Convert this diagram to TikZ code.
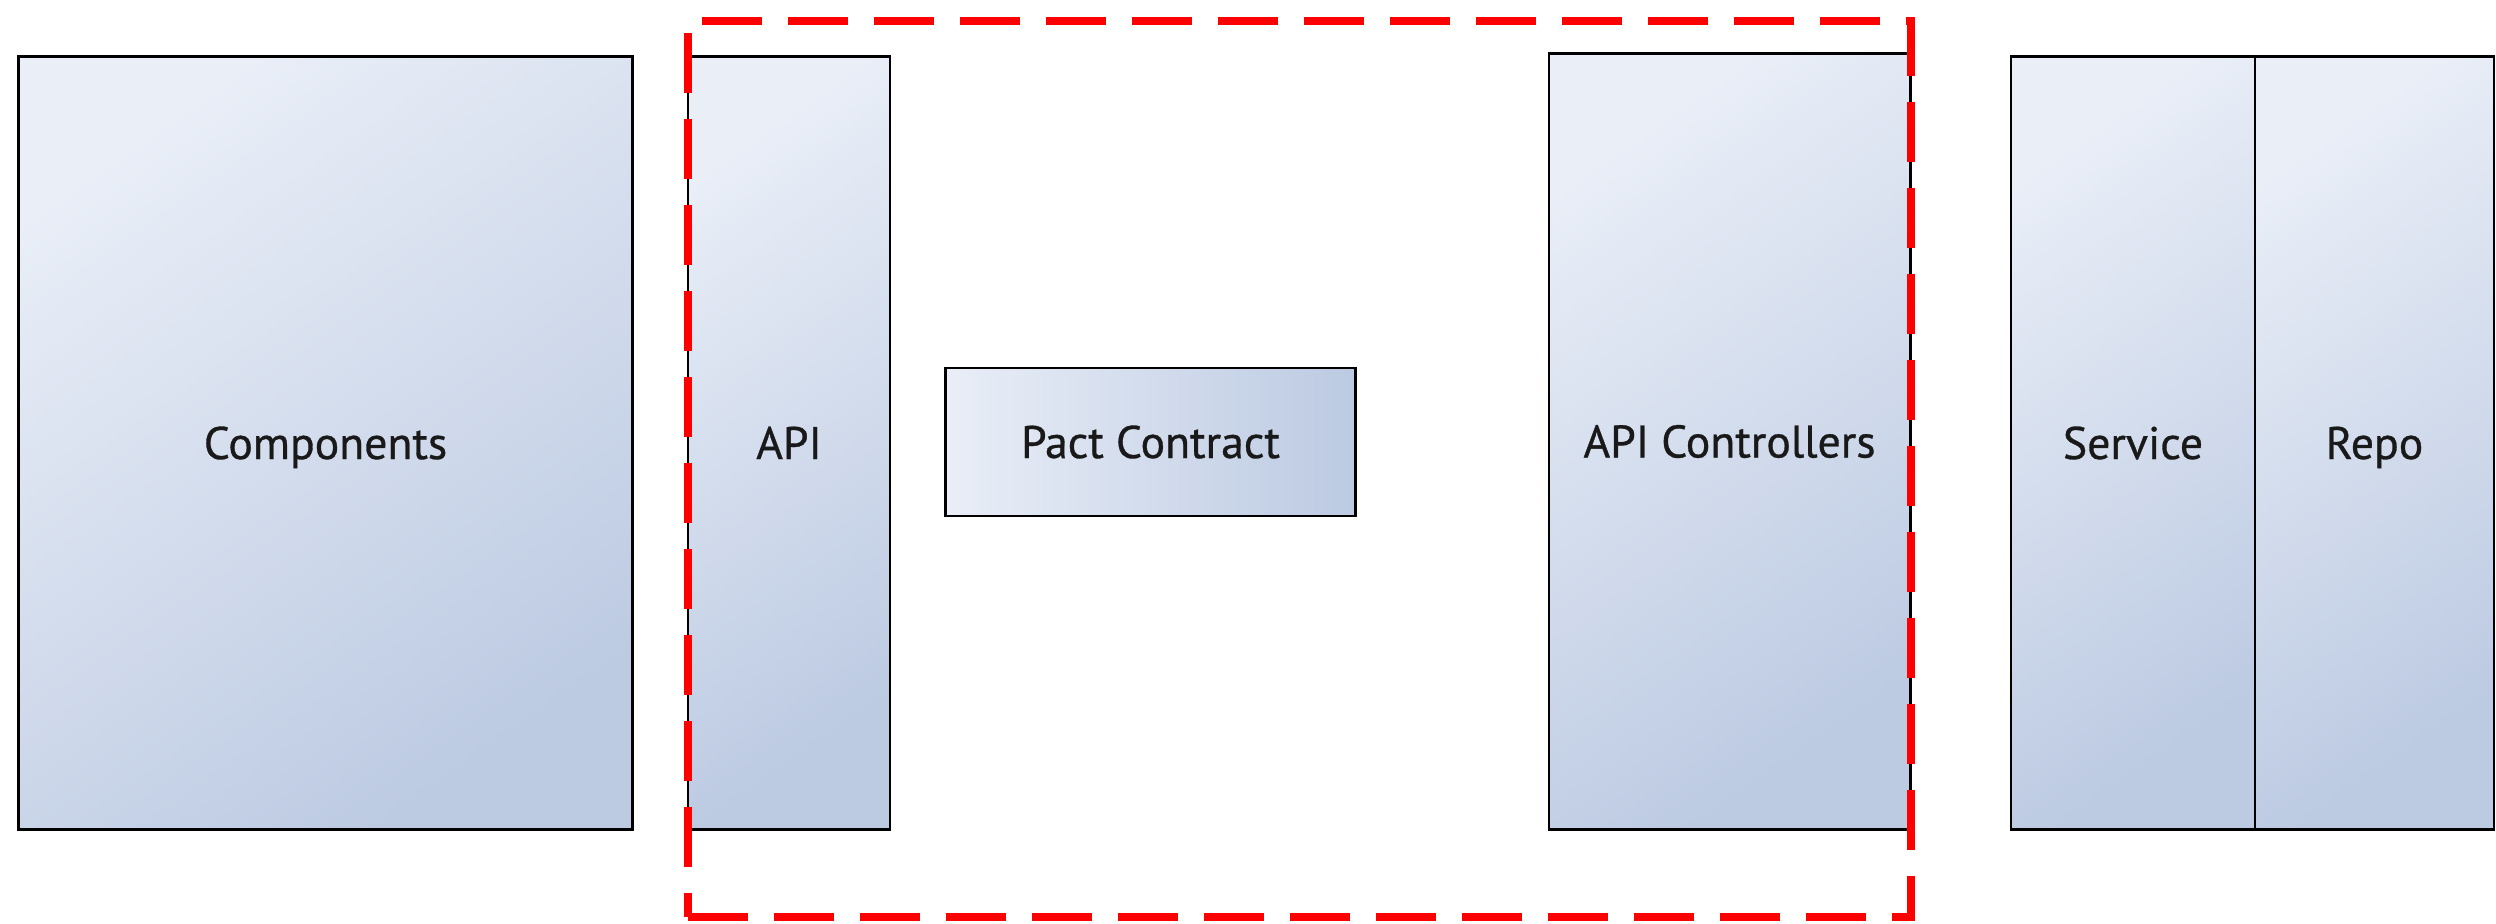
\documentclass[tikz,border=0pt]{standalone}
\usepackage{fontspec}
\setmainfont[FakeBold=0.7]{PT Sans}
\definecolor{boxlight}{HTML}{E9EEF7}
\definecolor{boxdark}{HTML}{BCCAE2}
\definecolor{boundred}{HTML}{FF0000}
\begin{document}
\begin{tikzpicture}[x=0.01cm,y=-0.01cm,
  comp/.style={draw=black, line width=0.028cm, shading=axis,
    top color=boxlight, bottom color=boxdark, shading angle=35,
    font=\fontsize{13}{15}\selectfont, inner sep=0pt, text=black!90,
    text height=9.1pt, text depth=0pt},
  flatcomp/.style={comp, shading angle=90},
  boundary/.style={draw=boundred, line width=0.08cm,
    dash pattern=on 0.6cm off 0.26cm, inner sep=0pt}]
\clip (0,0) rectangle (2496,923);
\node[comp, minimum width=6.13cm, minimum height=7.72cm] (components) at (325.5,443) {Components};
\node[comp, minimum width=2.02cm, minimum height=7.72cm] (api) at (789,443) {API};
\node[flatcomp, minimum width=4.09cm, minimum height=1.48cm] (pact) at (1150.5,442) {Pact Contract};
\node[comp, minimum width=3.61cm, minimum height=7.75cm] (controllers) at (1729.5,441.5) {API Controllers};
\node[comp, minimum width=2.44cm, minimum height=7.72cm] (service) at (2133,443) {Service};
\node[comp, minimum width=2.39cm, minimum height=7.72cm] (repo) at (2374.5,443) {Repo};
\node[boundary, minimum width=12.23cm, minimum height=8.96cm] (contract) at (1299.5,469) {};
\end{tikzpicture}
\end{document}
